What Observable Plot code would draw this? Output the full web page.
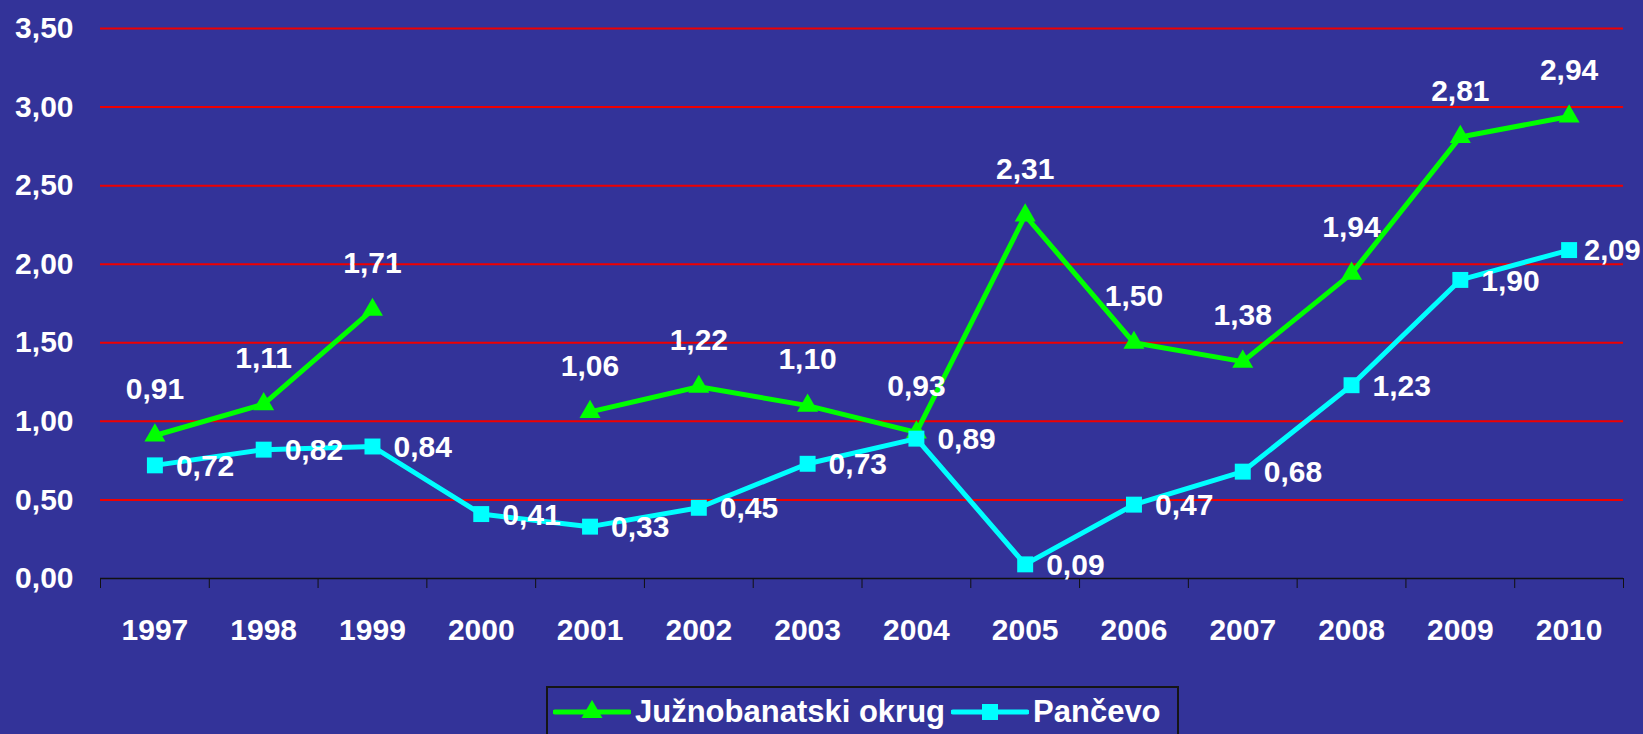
<!DOCTYPE html>
<html>
<head>
<meta charset="utf-8">
<script src="https://cdn.jsdelivr.net/npm/d3@7"></script>
<script src="https://cdn.jsdelivr.net/npm/@observablehq/plot@0.6"></script>
<style>
  html, body { margin: 0; padding: 0; background: #333399; width: 1643px; height: 734px; overflow: hidden; }
  #chart { position: absolute; left: 0; top: 0; }
  #legend { position: absolute; left: 546px; top: 686px; width: 633px; height: 60px; box-sizing: border-box;
            border: 2px solid #151515; font-family: "Liberation Sans", Arial, sans-serif; font-weight: bold;
            font-size: 31px; color: #fff; }
  #legend .row { display: flex; align-items: center; height: 48px; line-height: 48px; white-space: nowrap; }
</style>
</head>
<body>
<div id="chart"></div>
<div id="legend"><div class="row" id="legendRow"></div></div>
<script>
const years = [1997, 1998, 1999, 2000, 2001, 2002, 2003, 2004, 2005, 2006, 2007, 2008, 2009, 2010];
const juznobanatski = [0.91, 1.11, 1.71, null, 1.06, 1.22, 1.10, 0.93, 2.31, 1.50, 1.38, 1.94, 2.81, 2.94];
const pancevo = [0.72, 0.82, 0.84, 0.41, 0.33, 0.45, 0.73, 0.89, 0.09, 0.47, 0.68, 1.23, 1.90, 2.09];
const seriesNames = ["Južnobanatski okrug", "Pančevo"];
const seriesColors = ["#00ff00", "#00ffff"];
const yTicks = [0, 0.5, 1, 1.5, 2, 2.5, 3, 3.5];

const fmt = v => d3.format(".2f")(v).replace(".", ",");
const jData = years.map((year, i) => ({year, value: juznobanatski[i]}));
const pData = years.map((year, i) => ({year, value: pancevo[i]}));
const jDefined = jData.filter(d => d.value != null);
const lastYear = years[years.length - 1];
const pMain = pData.filter(d => d.year !== lastYear);
const pLast = pData.filter(d => d.year === lastYear);
const boundaries = [...years.map(y => y - 0.5), lastYear + 0.5];

const font = "Liberation Sans, Arial, sans-serif";
const fs = 30;
const labelStyle = {fill: "#fff", fontSize: fs, fontWeight: "bold"};

const chart = Plot.plot({
  width: 1643,
  height: 686,
  marginLeft: 100,
  marginRight: 20,
  marginTop: 28,
  marginBottom: 108,
  style: {background: "#333399", color: "#fff", fontFamily: font, fontWeight: "bold", fontSize: fs + "px", overflow: "visible"},
  x: {type: "linear", domain: [years[0] - 0.5, lastYear + 0.5]},
  y: {domain: [0, 3.5]},
  marks: [
    Plot.ruleY(yTicks.filter(d => d > 0), {stroke: "#f00000", strokeWidth: 2}),
    Plot.axisY({ticks: yTicks, tickSize: 0, tickPadding: 27, tickFormat: fmt, ...labelStyle, label: null}),
    Plot.axisX({ticks: boundaries, tickSize: 10, tickFormat: () => "", stroke: "#111", label: null}),
    Plot.axisX({ticks: years, tickSize: 0, tickPadding: 40, tickFormat: d => String(d), ...labelStyle, label: null}),
    Plot.ruleY([0], {stroke: "#111", strokeWidth: 1.5}),
    Plot.line(jData, {x: "year", y: "value", stroke: seriesColors[0], strokeWidth: 5}),
    Plot.dot(jDefined, {x: "year", y: "value", symbol: "triangle", r: 7.8, fill: seriesColors[0]}),
    Plot.line(pData, {x: "year", y: "value", stroke: seriesColors[1], strokeWidth: 5}),
    Plot.dot(pData, {x: "year", y: "value", symbol: "square", r: 9, fill: seriesColors[1]}),
    Plot.text(jDefined, {x: "year", y: "value", text: d => fmt(d.value), dy: -46, ...labelStyle}),
    Plot.text(pMain, {x: "year", y: "value", text: d => fmt(d.value), dx: 21, dy: 1, textAnchor: "start", ...labelStyle}),
    Plot.text(pLast, {x: "year", y: "value", text: d => fmt(d.value), dx: 15, dy: 1, textAnchor: "start", ...labelStyle, fontSize: 29})
  ]
});
document.getElementById("chart").appendChild(chart);

// Legend
const row = document.getElementById("legendRow");
const symbols = [d3.symbolTriangle, d3.symbolSquare];
const symbolSizes = [190, 256];
seriesNames.forEach((name, i) => {
  const sw = d3.create("svg").attr("width", 78).attr("height", 24)
    .style("margin-left", i === 0 ? "5px" : "6px");
  sw.append("line").attr("x1", 2).attr("x2", 76).attr("y1", 12).attr("y2", 12)
    .attr("stroke", seriesColors[i]).attr("stroke-width", 5).attr("stroke-linecap", "round");
  sw.append("path").attr("transform", "translate(39,12)")
    .attr("d", d3.symbol(symbols[i], symbolSizes[i])())
    .attr("fill", seriesColors[i]);
  row.appendChild(sw.node());
  const t = document.createElement("span");
  t.textContent = name;
  t.style.marginLeft = "4px";
  row.appendChild(t);
});
</script>
</body>
</html>
